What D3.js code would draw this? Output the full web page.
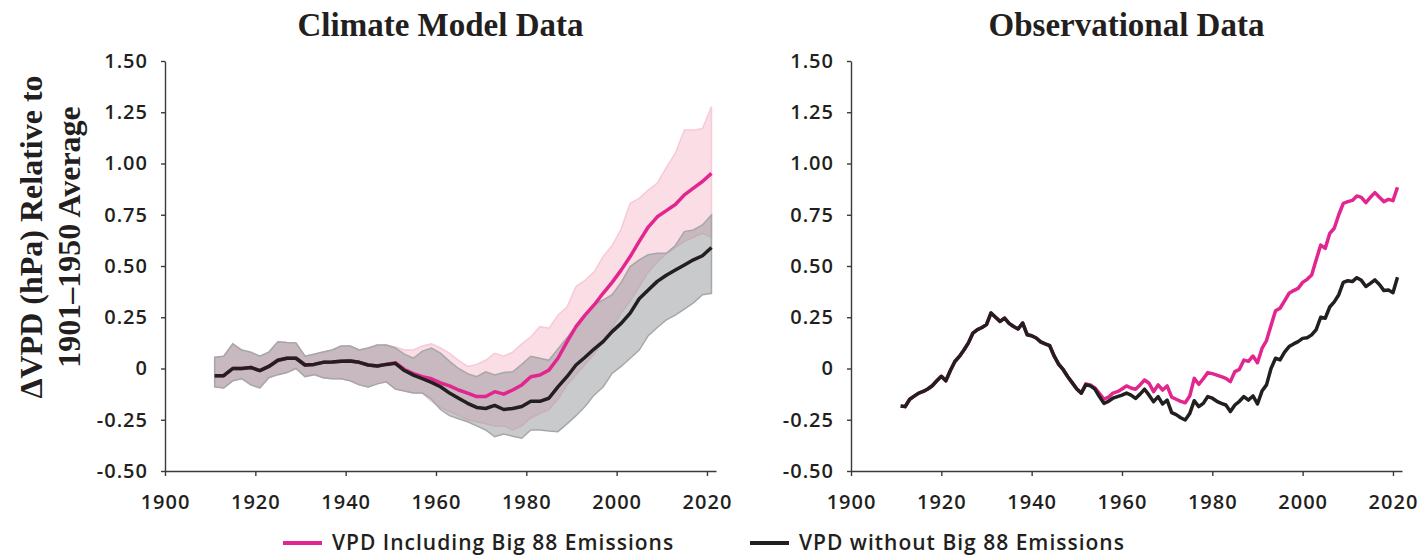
<!DOCTYPE html>
<html lang="en">
  <head>
    <meta charset="UTF-8" />
    <title>VPD: Climate Model vs Observational Data</title>
    <script src="https://cdn.jsdelivr.net/npm/d3@7"></script>
    <style>
      body, html { margin: 0; padding: 0; background: #fff; }
      svg { display: block; }
      .tick text, .legend text {
        font-family: "Open Sans", sans-serif;
        font-weight: 600;
        font-size: 20px;
        letter-spacing: 1px;
        fill: #231f20;
      }
      .legend text { font-size: 21px; }
      .title, .ytitle {
        font-family: "Liberation Serif", serif;
        font-weight: bold;
        fill: #231f20;
      }
    </style>
  </head>
  <body>
    <svg width="1421" height="555"></svg>
    <script>
      // ---- data ----
      const modelYears = [1911,1913,1915,1917,1919,1921,1923,1925,1927,1929,1931,1933,1935,1937,1939,1941,1943,1945,1947,1949,1951,1953,1955,1957,1959,1961,1963,1965,1967,1969,1971,1973,1975,1977,1979,1981,1983,1985,1987,1989,1991,1993,1995,1997,1999,2001,2003,2005,2007,2009,2011,2013,2015,2017,2019,2021];

      // model mean without Big 88 emissions
      const modelWithout = [-0.035,-0.035,0.0,0.0,0.005,-0.01,0.01,0.04,0.05,0.05,0.017,0.02,0.03,0.032,0.035,0.037,0.03,0.017,0.012,0.02,0.025,-0.01,-0.032,-0.05,-0.068,-0.089,-0.12,-0.145,-0.17,-0.19,-0.195,-0.18,-0.2,-0.195,-0.185,-0.16,-0.16,-0.145,-0.09,-0.04,0.017,0.055,0.095,0.131,0.18,0.22,0.27,0.34,0.383,0.425,0.455,0.48,0.505,0.53,0.55,0.59];
      const withoutUpper = [0.055,0.06,0.12,0.09,0.08,0.06,0.08,0.13,0.127,0.125,0.06,0.07,0.08,0.09,0.11,0.11,0.09,0.1,0.115,0.115,0.1,0.07,0.05,0.085,0.1,0.075,0.035,0.0,-0.025,-0.04,-0.016,-0.032,-0.02,-0.016,0.02,0.06,0.05,0.04,0.095,0.15,0.204,0.26,0.31,0.334,0.36,0.42,0.497,0.53,0.555,0.562,0.562,0.6,0.668,0.676,0.7,0.749];
      const withoutLower = [-0.09,-0.095,-0.06,-0.05,-0.08,-0.095,-0.045,-0.03,-0.02,0.0,-0.04,-0.03,-0.045,-0.05,-0.05,-0.06,-0.08,-0.09,-0.075,-0.065,-0.1,-0.11,-0.12,-0.12,-0.15,-0.2,-0.23,-0.245,-0.26,-0.28,-0.3,-0.333,-0.32,-0.33,-0.34,-0.3,-0.3,-0.305,-0.308,-0.27,-0.23,-0.185,-0.13,-0.09,-0.024,0.01,0.05,0.09,0.16,0.2,0.237,0.26,0.29,0.32,0.36,0.367];

      // model mean including Big 88 emissions
      const modelWith = [-0.035,-0.035,0.0,0.0,0.005,-0.01,0.01,0.04,0.05,0.05,0.017,0.02,0.03,0.032,0.035,0.037,0.03,0.017,0.012,0.02,0.028,-0.005,-0.025,-0.04,-0.05,-0.07,-0.085,-0.105,-0.12,-0.137,-0.137,-0.113,-0.125,-0.105,-0.08,-0.04,-0.032,-0.008,0.05,0.13,0.204,0.26,0.31,0.367,0.42,0.48,0.546,0.62,0.69,0.74,0.77,0.8,0.847,0.88,0.912,0.952];
      const withUpper = [0.055,0.06,0.12,0.09,0.08,0.06,0.08,0.13,0.127,0.125,0.06,0.07,0.08,0.09,0.11,0.11,0.09,0.1,0.115,0.115,0.105,0.09,0.09,0.11,0.12,0.1,0.074,0.04,0.01,0.02,0.04,0.074,0.06,0.08,0.12,0.155,0.204,0.196,0.26,0.3,0.4,0.43,0.47,0.546,0.6,0.68,0.806,0.83,0.87,0.904,0.98,1.05,1.163,1.163,1.17,1.277];
      const withLower = [-0.09,-0.095,-0.06,-0.05,-0.08,-0.095,-0.045,-0.03,-0.02,0.0,-0.04,-0.03,-0.045,-0.05,-0.05,-0.06,-0.08,-0.09,-0.075,-0.065,-0.1,-0.11,-0.12,-0.12,-0.16,-0.19,-0.21,-0.23,-0.25,-0.26,-0.27,-0.28,-0.28,-0.3,-0.28,-0.24,-0.22,-0.2,-0.15,-0.08,-0.03,0.02,0.07,0.13,0.2,0.27,0.33,0.4,0.47,0.52,0.56,0.59,0.62,0.64,0.66,0.64];

      const obsYears = d3.range(1911, 2022);
      const obsWithout = [-0.183,-0.186,-0.15,-0.135,-0.12,-0.112,-0.1,-0.084,-0.06,-0.038,-0.06,-0.01,0.034,0.059,0.09,0.125,0.173,0.19,0.2,0.214,0.271,0.25,0.23,0.246,0.22,0.205,0.193,0.222,0.165,0.16,0.149,0.13,0.12,0.111,0.06,0.02,-0.006,-0.04,-0.07,-0.1,-0.12,-0.079,-0.085,-0.1,-0.137,-0.17,-0.16,-0.145,-0.137,-0.13,-0.12,-0.13,-0.146,-0.125,-0.101,-0.13,-0.162,-0.137,-0.173,-0.154,-0.215,-0.225,-0.24,-0.251,-0.22,-0.157,-0.186,-0.17,-0.137,-0.145,-0.16,-0.17,-0.178,-0.21,-0.178,-0.16,-0.137,-0.154,-0.134,-0.173,-0.11,-0.08,0.0,0.05,0.042,0.08,0.107,0.12,0.131,0.147,0.15,0.164,0.19,0.25,0.245,0.3,0.325,0.36,0.42,0.428,0.424,0.443,0.43,0.4,0.415,0.432,0.41,0.38,0.383,0.37,0.445];
      const obsWith = [-0.183,-0.186,-0.15,-0.135,-0.12,-0.112,-0.1,-0.084,-0.06,-0.038,-0.06,-0.01,0.034,0.059,0.09,0.125,0.173,0.19,0.2,0.214,0.271,0.25,0.23,0.246,0.22,0.205,0.193,0.222,0.165,0.16,0.149,0.13,0.12,0.111,0.06,0.02,-0.006,-0.04,-0.07,-0.1,-0.12,-0.075,-0.08,-0.095,-0.121,-0.15,-0.14,-0.12,-0.113,-0.1,-0.085,-0.095,-0.101,-0.08,-0.056,-0.072,-0.113,-0.08,-0.105,-0.085,-0.14,-0.15,-0.16,-0.167,-0.134,-0.048,-0.077,-0.05,-0.02,-0.025,-0.032,-0.04,-0.048,-0.064,-0.015,-0.004,0.041,0.035,0.061,0.028,0.098,0.136,0.21,0.282,0.294,0.33,0.367,0.38,0.391,0.42,0.435,0.456,0.53,0.602,0.586,0.659,0.684,0.75,0.806,0.814,0.82,0.842,0.835,0.809,0.835,0.858,0.835,0.814,0.825,0.819,0.884];

      const xTicks = [1900, 1920, 1940, 1960, 1980, 2000, 2020];
      const yTicks = [-0.5, -0.25, 0, 0.25, 0.5, 0.75, 1.0, 1.25, 1.5];
      const titles = ["Climate Model Data", "Observational Data"];
      const legendLabels = ["VPD Including Big 88 Emissions", "VPD without Big 88 Emissions"];

      const PINK = "#e3268f";
      const DARK = "#231f20";

      const svg = d3.select("svg");
      const y = d3.scaleLinear().domain([-0.5, 1.5]).range([471, 61]);
      const xLeft = d3.scaleLinear().domain([1900, 2022]).range([165, 716]);
      const xRight = d3.scaleLinear().domain([1900, 2022]).range([851, 1402]);

      // plain hyphen for negatives, like the original
      const fmt2 = d3.formatLocale({ decimal: ".", thousands: ",", grouping: [3], currency: ["", ""], minus: "-" }).format(".2f");

      function drawAxes(x) {
        svg.append("g")
          .attr("transform", `translate(0,${y(-0.5)})`)
          .call(d3.axisBottom(x).tickValues(xTicks).tickFormat(d3.format("d")).tickSize(5).tickSizeOuter(0).tickPadding(19))
          .call((g) => g.selectAll("path, line").attr("stroke", "#3a3a3a").attr("stroke-width", 1.4));
        svg.append("g")
          .attr("transform", `translate(${x(1900)},0)`)
          .call(d3.axisLeft(y).tickValues(yTicks).tickFormat((d) => (d === 0 ? "0" : fmt2(d))).tickSize(4).tickSizeOuter(0).tickPadding(13))
          .call((g) => g.selectAll("path, line").attr("stroke", "#3a3a3a").attr("stroke-width", 1.4));
      }

      function band(x, years, lo, hi) {
        return d3.area()
          .x((d, i) => x(years[i]))
          .y0((d, i) => y(lo[i]))
          .y1((d, i) => y(hi[i]))(years);
      }
      function line(x, years, vals) {
        return d3.line()
          .x((d, i) => x(years[i]))
          .y((d, i) => y(vals[i]))(years);
      }

      // ---- left panel: climate model ----
      svg.append("path")
        .attr("d", band(xLeft, modelYears, withLower, withUpper))
        .attr("fill", "#fbdde6")
        .attr("stroke", "#f7cad7")
        .attr("stroke-width", 1.5);
      svg.append("path")
        .attr("d", band(xLeft, modelYears, withoutLower, withoutUpper))
        .attr("fill", "#939598")
        .attr("fill-opacity", 0.5)
        .attr("stroke", "#a5a7aa")
        .attr("stroke-width", 1.5);
      svg.append("path")
        .attr("d", line(xLeft, modelYears, modelWith))
        .attr("fill", "none").attr("stroke", PINK).attr("stroke-width", 3.5).attr("stroke-linejoin", "round");
      svg.append("path")
        .attr("d", line(xLeft, modelYears, modelWithout))
        .attr("fill", "none").attr("stroke", DARK).attr("stroke-width", 3.5).attr("stroke-linejoin", "round");
      drawAxes(xLeft);

      // ---- right panel: observations ----
      svg.append("path")
        .attr("d", line(xRight, obsYears, obsWith))
        .attr("fill", "none").attr("stroke", PINK).attr("stroke-width", 3.5).attr("stroke-linejoin", "round");
      svg.append("path")
        .attr("d", line(xRight, obsYears, obsWithout))
        .attr("fill", "none").attr("stroke", DARK).attr("stroke-width", 3.5).attr("stroke-linejoin", "round");
      drawAxes(xRight);

      // titles
      [xLeft, xRight].forEach((x, i) => {
        svg.append("text")
          .attr("class", "title")
          .attr("x", (x.range()[0] + x.range()[1]) / 2)
          .attr("y", 36)
          .attr("text-anchor", "middle")
          .attr("font-size", 33)
          .text(titles[i]);
      });

      // y axis title
      const yt = svg.append("text")
        .attr("class", "ytitle")
        .attr("font-size", 32)
        .attr("text-anchor", "middle")
        .attr("transform", "translate(42,237) rotate(-90)");
      yt.append("tspan").attr("x", 0).attr("y", 0).text("\u0394VPD (hPa) Relative to");
      yt.append("tspan").attr("x", 0).attr("y", 38).text("1901\u20131950 Average");

      // legend
      const legend = svg.append("g").attr("class", "legend");
      const legendItems = [
        { x: 283, color: PINK, label: legendLabels[0] },
        { x: 750, color: DARK, label: legendLabels[1] },
      ];
      legendItems.forEach((d) => {
        legend.append("line")
          .attr("x1", d.x).attr("x2", d.x + 39)
          .attr("y1", 543).attr("y2", 543)
          .attr("stroke", d.color).attr("stroke-width", 4);
        legend.append("text")
          .attr("x", d.x + 49).attr("y", 550)
          .text(d.label);
      });
    </script>
  </body>
</html>
